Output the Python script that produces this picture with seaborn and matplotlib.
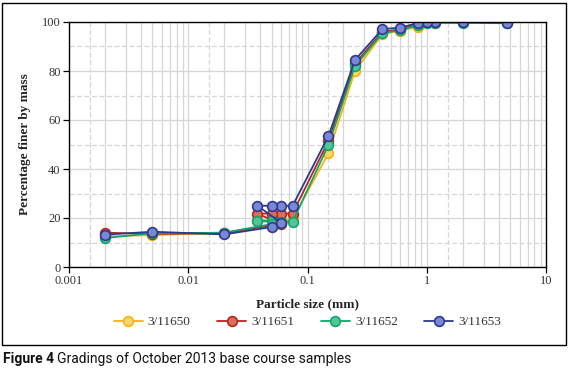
import matplotlib
matplotlib.use("Agg")
import matplotlib.pyplot as plt
import matplotlib.ticker as mticker
from matplotlib.patches import Rectangle
import pandas as pd
import seaborn as sns

# =========================
# DATA (sieve sizes then hydrometer, plotted in this order)
# =========================
sizes = [4.75, 2.0, 1.18, 1.0, 0.85, 0.6, 0.425, 0.25, 0.15, 0.075,
         0.06, 0.05, 0.038, 0.06, 0.05, 0.02, 0.005, 0.002]

s_11650 = [99.8, 99.8, 99.6, 99.5, 98.0, 96.5, 95.0, 80.0, 46.5, 19.5,
           19.0, 19.0, 19.0, 18.5, 17.0, 14.0, 13.0, 12.5]
s_11651 = [99.8, 100.0, 100.0, 100.0, 99.0, 97.0, 96.0, 83.0, 51.5, 21.8,
           21.8, 21.8, 21.8, 17.5, 17.0, 13.8, 13.5, 14.0]
s_11652 = [99.5, 99.6, 99.7, 99.5, 98.8, 96.6, 95.5, 82.0, 49.8, 18.5,
           18.5, 18.9, 18.9, 18.0, 17.5, 14.0, 13.8, 11.8]
s_11653 = [99.7, 100.0, 100.0, 100.0, 99.6, 97.7, 97.1, 84.5, 53.5, 25.0,
           25.0, 25.0, 25.0, 18.1, 16.3, 13.3, 14.4, 13.2]

samples = ["3/11650", "3/11651", "3/11652", "3/11653"]
series = [s_11650, s_11651, s_11652, s_11653]
line_cols = ["#F2B50A", "#B5261E", "#12A46E", "#2B3990"]
face_cols = ["#FDD56E", "#D9705E", "#52C796", "#7C87D3"]

rows = []
for name, vals in zip(samples, series):
    for i, (x, y) in enumerate(zip(sizes, vals)):
        rows.append({"sample": name, "order": i, "size": x, "pct": y})
df = pd.DataFrame(rows)

# =========================
# PLOT
# =========================
sns.set_style("white")
serif = ["Liberation Serif", "DejaVu Serif"]

fig = plt.figure(figsize=(5.68, 3.72), dpi=100)
ax = fig.add_axes([69 / 568, 1 - 267 / 372, (546 - 69) / 568, (267 - 22) / 372])

ax.set_xscale("log")
ax.set_xlim(0.001, 10)
ax.set_ylim(0, 100)

# grid
grid_c = "#d6d6d6"
ax.xaxis.set_minor_locator(mticker.LogLocator(base=10, subs=range(2, 10)))
ax.xaxis.set_minor_formatter(mticker.NullFormatter())
ax.yaxis.set_major_locator(mticker.MultipleLocator(20))
ax.yaxis.set_minor_locator(mticker.MultipleLocator(10))
ax.grid(which="major", axis="both", color=grid_c, lw=0.9, ls="-")
ax.grid(which="minor", axis="x", color=grid_c, lw=0.9, ls="-")
ax.grid(which="minor", axis="y", color=grid_c, lw=0.9, ls=(0, (4, 2)))
for xd in [0.0015, 0.015, 0.15, 1.5]:
    ax.axvline(xd, color=grid_c, lw=0.9, ls=(0, (4, 2)), zorder=0.5)
ax.set_axisbelow(True)

for name, lc, fc in zip(samples, line_cols, face_cols):
    sub = df[df["sample"] == name].sort_values("order")
    sns.lineplot(data=sub, x="size", y="pct", ax=ax, sort=False, estimator=None,
                 color=lc, lw=1.3, marker="o", markersize=7,
                 markerfacecolor=fc, markeredgecolor=lc, markeredgewidth=1.2,
                 label=name)

for sp in ax.spines.values():
    sp.set_color("black")
    sp.set_linewidth(1.0)

ax.set_xticks([0.001, 0.01, 0.1, 1, 10])
ax.set_xticklabels(["0.001", "0.01", "0.1", "1", "10"])
ax.set_yticks([0, 20, 40, 60, 80, 100])
ax.tick_params(which="major", direction="out", length=4, width=0.9,
               labelsize=9, colors="black", labelcolor="#333333", pad=2)
ax.tick_params(which="minor", length=0)
ax.tick_params(axis="x", bottom=True)
ax.tick_params(axis="y", left=True)
for lab in ax.get_xticklabels() + ax.get_yticklabels():
    lab.set_family(serif)

ax.set_xlabel("Particle size (mm)", family=serif, fontweight="bold",
              fontsize=9.5, color="#222222", labelpad=8)
ax.set_ylabel("Percentage finer by mass", family=serif, fontweight="bold",
              fontsize=9.5, color="#222222", labelpad=8)

ax.legend().remove()
handles, labels = ax.get_legend_handles_labels()
leg = fig.legend(handles, labels, loc="center", bbox_to_anchor=(307.5 / 568, 1 - 322 / 372),
                 ncol=4, frameon=False, handlelength=2.2, columnspacing=2.0,
                 handletextpad=0.4, prop={"family": serif, "size": 9.5})
for t in leg.get_texts():
    t.set_color("#333333")

# outer frame
fig.patches.append(Rectangle((2 / 568, 1 - 345 / 372), 564 / 568, 342 / 372,
                             transform=fig.transFigure, fill=False,
                             edgecolor="black", lw=1.0))

# caption
cap_font = ["Roboto", "DejaVu Sans"]
t1 = fig.text(3 / 568, 1 - 359 / 372, "Figure 4", family=cap_font, fontweight="bold",
              fontsize=10, va="center", ha="left", color="#111111")
r = fig.canvas.get_renderer()
bb = t1.get_window_extent(renderer=r).transformed(fig.transFigure.inverted())
fig.text(bb.x1 + 3 / 568, 1 - 359 / 372, "Gradings of October 2013 base course samples",
         family=cap_font, fontsize=10, va="center", ha="left", color="#111111")

fig.savefig("out.png", dpi=100)
